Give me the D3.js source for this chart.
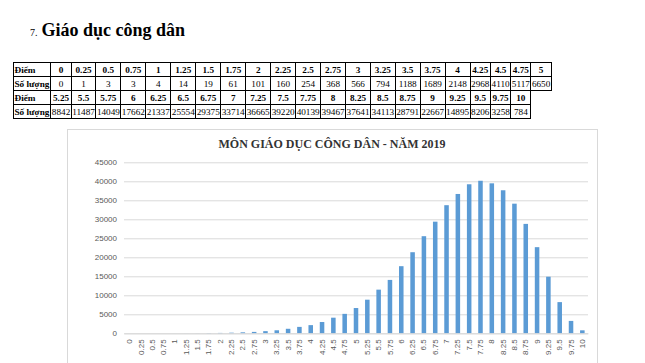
<!DOCTYPE html>
<html>
<head>
<meta charset="utf-8">
<script src="https://cdn.jsdelivr.net/npm/d3@7"></script>
<style>
  body { margin: 0; background: #fff; width: 645px; height: 363px; overflow: hidden; position: relative; }
  #heading { position: absolute; left: 30px; top: 20px; font-family: "Liberation Serif", "Times New Roman", serif; white-space: nowrap; }
  #heading .num { font-size: 10px; }
  #heading .txt { font-size: 18px; font-weight: bold; }
  #score-table { position: absolute; left: 13px; top: 62px; border-collapse: collapse; font-family: "Liberation Serif", "Times New Roman", serif; font-size: 9.2px; }
  #score-table td { border: 1px solid #000; padding: 0 0.5px; height: 13px; line-height: 12px; text-align: center; white-space: nowrap; }
  #score-table td.head { text-align: left; font-weight: bold; padding-right: 1px; }
  #score-table tr.pts td { font-weight: bold; }
  #chart { position: absolute; left: 0; top: 0; }
</style>
</head>
<body>
<div id="heading"><span class="num">7.</span> <span class="txt">Giáo dục công dân</span></div>
<table id="score-table"></table>
<svg id="chart" width="645" height="363"></svg>
<script>
const scores = ["0", "0.25", "0.5", "0.75", "1", "1.25", "1.5", "1.75", "2", "2.25", "2.5",
  "2.75", "3", "3.25", "3.5", "3.75", "4", "4.25", "4.5", "4.75", "5",
  "5.25", "5.5", "5.75", "6", "6.25", "6.5", "6.75", "7", "7.25", "7.5",
  "7.75", "8", "8.25", "8.5", "8.75", "9", "9.25", "9.5", "9.75", "10"];
const counts = [0, 1, 3, 3, 4, 14, 19, 61, 101, 160, 254,
  368, 566, 794, 1188, 1689, 2148, 2968, 4110, 5117, 6650,
  8842, 11487, 14049, 17662, 21337, 25554, 29375, 33714, 36665, 39220,
  40139, 39467, 37641, 34113, 28791, 22667, 14895, 8206, 3258, 784];
const yTicks = [0, 5000, 10000, 15000, 20000, 25000, 30000, 35000, 40000, 45000];
const chartTitle = "MÔN GIÁO DỤC CÔNG DÂN - NĂM 2019";

// table: two blocks of (score row, count row)
const split = 21;
const blocks = [
  { s: scores.slice(0, split), c: counts.slice(0, split) },
  { s: scores.slice(split), c: counts.slice(split) }
];
const table = d3.select("#score-table");
blocks.forEach((b) => {
  const r1 = table.append("tr").attr("class", "pts");
  r1.append("td").attr("class", "head").text("Điểm");
  r1.selectAll("td.v").data(b.s).enter().append("td").attr("class", "v").text((d) => d);
  const r2 = table.append("tr");
  r2.append("td").attr("class", "head").text("Số lượng");
  r2.selectAll("td.v").data(b.c).enter().append("td").attr("class", "v").text((d) => d);
});

// chart
const svg = d3.select("#chart");
const frame = { x: 67, y: 129.5, w: 530, h: 260 };
const plot = { left: 124, right: 588, top: 162.3, bottom: 333.3 };

svg.append("rect")
  .attr("x", frame.x + 0.5).attr("y", frame.y)
  .attr("width", frame.w).attr("height", frame.h)
  .attr("fill", "#fff").attr("stroke", "#d9d9d9");

svg.append("text")
  .attr("x", frame.x + frame.w / 2).attr("y", 148)
  .attr("text-anchor", "middle")
  .attr("font-family", "Liberation Serif, serif")
  .attr("font-weight", "bold").attr("font-size", 12)
  .attr("fill", "#333")
  .text(chartTitle);

const x = d3.scaleBand().domain(scores).range([plot.left, plot.right])
  .paddingInner(0.6).paddingOuter(0.3);
const y = d3.scaleLinear().domain([0, 45000]).range([plot.bottom, plot.top]);

// gridlines + y labels
const yAxis = svg.append("g")
  .attr("transform", `translate(${plot.left},0)`)
  .call(d3.axisLeft(y).tickValues(yTicks).tickFormat(d3.format("d"))
    .tickSize(-(plot.right - plot.left)).tickPadding(7));
yAxis.select(".domain").remove();
yAxis.selectAll(".tick line").attr("stroke", "#d9d9d9");
yAxis.selectAll(".tick text")
  .attr("fill", "#595959").attr("font-size", 8)
  .attr("font-family", "Liberation Sans, sans-serif");

// bars
svg.selectAll("rect.bar")
  .data(scores.map((s, i) => ({ s, v: counts[i] })))
  .enter().append("rect")
  .attr("class", "bar")
  .attr("x", (d) => x(d.s))
  .attr("y", (d) => y(d.v))
  .attr("width", x.bandwidth())
  .attr("height", (d) => y(0) - y(d.v))
  .attr("fill", "#5b9bd5");

// x axis
const xAxis = svg.append("g")
  .attr("transform", `translate(0,${plot.bottom})`)
  .call(d3.axisBottom(x).tickSize(0).tickPadding(0));
xAxis.select(".domain").attr("stroke", "#d9d9d9");
xAxis.selectAll(".tick text")
  .attr("transform", "rotate(-90)")
  .attr("x", -6).attr("y", 0).attr("dy", "0.32em")
  .style("text-anchor", "end")
  .attr("fill", "#595959").attr("font-size", 8)
  .attr("font-family", "Liberation Sans, sans-serif");
</script>
</body>
</html>
